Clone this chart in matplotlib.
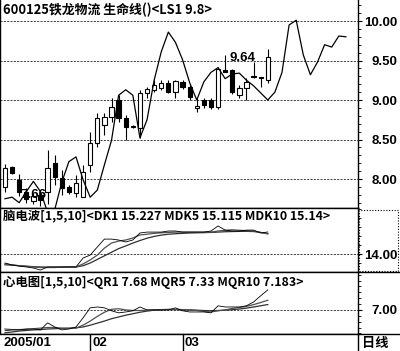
import numpy as np
import matplotlib
matplotlib.use("Agg")
import matplotlib.pyplot as plt
from matplotlib.lines import Line2D
from matplotlib.patches import Rectangle
from matplotlib.ticker import MultipleLocator, FixedLocator

# ---------------- data ----------------
opens  = [7.90, 8.15, 7.99, 7.84, 7.72, 7.80, 7.84, 8.20, 8.01, 7.90, 7.82, 7.77,
          8.18, 8.46, 8.68, 8.78, 9.00, 8.77, 8.66, 8.65, 9.09, 9.13, 9.15, 9.21,
          9.10, 9.23, 9.16, 8.90, 9.00, 9.00, 8.91, 9.38, 9.38, 9.06, 9.15, 9.30,
          9.29, 9.25]
closes = [8.14, 8.08, 7.84, 7.75, 7.78, 7.74, 8.14, 8.03, 7.89, 7.84, 7.95, 8.09,
          8.46, 8.77, 8.78, 8.91, 8.77, 8.66, 8.67, 9.09, 9.14, 9.19, 9.21, 9.10,
          9.24, 9.16, 9.04, 8.92, 8.94, 8.91, 9.39, 9.36, 9.10, 9.15, 9.23, 9.29,
          9.28, 9.54]
highs  = [8.19, 8.17, 8.06, 7.88, 7.82, 7.84, 8.37, 8.30, 8.11, 7.93, 8.05, 8.18,
          8.60, 8.84, 8.84, 9.02, 9.06, 8.81, 8.68, 9.13, 9.16, 9.25, 9.25, 9.25,
          9.25, 9.25, 9.19, 9.03, 9.02, 9.02, 9.42, 9.57, 9.39, 9.19, 9.28, 9.48,
          9.29, 9.64]
lows   = [7.84, 8.06, 7.78, 7.70, 7.68, 7.66, 7.68, 7.93, 7.80, 7.81, 7.77, 7.77,
          8.09, 8.40, 8.56, 8.72, 8.72, 8.49, 8.65, 8.52, 9.02, 9.10, 9.13, 9.09,
          9.02, 9.14, 9.00, 8.85, 8.90, 8.88, 8.89, 9.35, 9.08, 9.02, 9.00, 9.28,
          9.16, 9.21]

life_line = [7.75, 7.77, 7.70, 7.84, 7.97, 7.84, 7.58, 7.61, 7.96, 8.22, 8.28, 7.99,
             7.77, 7.86, 8.18, 8.49, 9.06, 9.13, 9.06, 8.52, 8.75, 9.25, 9.61, 9.86,
             9.73, 9.51, 9.22, 9.00, 9.23, 9.35, 9.41, 9.27, 9.33, 9.34, 9.25, 9.18,
             9.09, 9.00, 9.10, 9.35, 9.95, 10.01, 9.57, 9.32, 9.48, 9.70, 9.67, 9.81,
             9.80]

dk1   = [13.50, 13.39, 13.33, 13.28, 13.22, 13.11, 13.28, 13.28, 13.28, 13.28, 13.28,
         13.78, 13.94, 14.39, 14.83, 14.83, 14.78, 14.67, 14.78, 15.17, 15.22, 15.22,
         15.22, 15.28, 15.28, 15.22, 15.22, 15.22, 15.22, 15.28, 15.56, 15.33, 15.28,
         15.28, 15.33, 15.33, 15.17, 15.227]
mdk5  = [13.45, 13.40, 13.35, 13.32, 13.28, 13.25, 13.25, 13.25, 13.27, 13.28, 13.28,
         13.45, 13.67, 13.94, 14.33, 14.61, 14.72, 14.78, 14.89, 15.06, 15.10, 15.15,
         15.18, 15.20, 15.22, 15.22, 15.22, 15.22, 15.22, 15.22, 15.28, 15.32, 15.35,
         15.32, 15.30, 15.28, 15.20, 15.115]
mdk10 = [13.40, 13.38, 13.35, 13.32, 13.30, 13.28, 13.27, 13.27, 13.27, 13.28, 13.28,
         13.35, 13.50, 13.70, 13.90, 14.10, 14.30, 14.45, 14.61, 14.75, 14.88, 14.98,
         15.05, 15.10, 15.13, 15.15, 15.17, 15.18, 15.19, 15.20, 15.22, 15.24, 15.25,
         15.26, 15.26, 15.25, 15.20, 15.14]

qr1   = [6.29, 6.32, 6.32, 6.35, 6.35, 6.32, 6.56, 6.42, 6.32, 6.35, 6.42, 6.73,
         7.07, 7.10, 7.07, 6.97, 6.90, 6.93, 6.97, 7.10, 7.00, 7.00, 7.00, 7.00,
         7.07, 6.97, 6.93, 6.93, 6.93, 6.90, 7.14, 7.10, 7.10, 7.10, 7.14, 7.27,
         7.48, 7.68]
mqr5  = [6.35, 6.33, 6.33, 6.34, 6.36, 6.38, 6.40, 6.40, 6.38, 6.37, 6.38, 6.48,
         6.62, 6.78, 6.92, 7.02, 7.04, 7.00, 6.98, 6.98, 6.99, 7.00, 7.01, 7.02,
         7.02, 7.01, 7.00, 6.98, 6.95, 6.93, 6.97, 7.00, 7.05, 7.08, 7.12, 7.18,
         7.25, 7.33]
mqr10 = [6.22, 6.25, 6.28, 6.30, 6.32, 6.33, 6.35, 6.36, 6.37, 6.38, 6.39, 6.42,
         6.48, 6.55, 6.62, 6.70, 6.76, 6.82, 6.87, 6.92, 6.96, 6.99, 7.00, 7.01,
         7.01, 7.00, 7.00, 6.99, 6.98, 6.97, 6.98, 6.99, 7.01, 7.03, 7.06, 7.10,
         7.14, 7.183]

month_labels = ["2005/01", "02", "03"]
month_start  = [0, 12, 25]

title1 = "600125铁龙物流 生命线()<LS1 9.8>"
title2 = "脑电波[1,5,10]<DK1 15.227 MDK5 15.115 MDK10 15.14>"
title3 = "心电图[1,5,10]<QR1 7.68 MQR5 7.33 MQR10 7.183>"
period_label = "日线"

main_ticks = [8.00, 8.50, 9.00, 9.50, 10.00]
p2_ticks = [14.00]
p3_ticks = [7.00]

# ---------------- layout ----------------
W, H = 400, 351
fig = plt.figure(figsize=(W / 100, H / 100), dpi=100)
fig.patch.set_facecolor("white")

CJK = ["Noto Sans CJK SC", "DejaVu Sans"]
NUMF = ["Liberation Sans", "DejaVu Sans"]


def fax(x0, y0, x1, y1):
    return fig.add_axes([x0 / W, 1 - y1 / H, (x1 - x0) / W, (y1 - y0) / H])


ax1 = fax(0, 0, 358, 208)
ax2 = fax(0, 208, 358, 272)
ax3 = fax(0, 272, 358, 334)
ax4 = fax(0, 334, 358, 351)

XLIM = (-0.7, 49.7)
grid_kw = dict(color="#222222", lw=0.6, ls=(0, (2.5, 1.5)), zorder=0)


def style_panel(ax, ylim, ticks, minor):
    ax.set_xlim(*XLIM)
    ax.set_ylim(*ylim)
    ax.set_xticks([])
    ax.yaxis.tick_right()
    ax.yaxis.set_major_locator(FixedLocator(ticks))
    if minor:
        ax.yaxis.set_minor_locator(MultipleLocator(minor))
    ax.tick_params(axis="y", which="major", direction="out", length=3, width=0.8,
                   pad=25.5, labelsize=9.5, colors="black")
    ax.tick_params(axis="y", which="minor", direction="out", length=2, width=0.6,
                   colors="black")
    ax.set_yticklabels([f"{t:.2f}" for t in ticks], fontfamily=NUMF,
                       fontweight="bold", ha="right")
    for s in ["left", "right", "bottom", "top"]:
        ax.spines[s].set_color("black")
        ax.spines[s].set_linewidth(1.0)
    for t in ticks:
        ax.axhline(t, **grid_kw)


style_panel(ax1, (7.633, 10.266), main_ticks, 0.1)
style_panel(ax2, (13.0, 16.56), p2_ticks, 0.5)
style_panel(ax3, (6.18, 8.29), p3_ticks, 0.2)
ax1.spines["top"].set_visible(False)

# ---------------- candles ----------------
idx = np.arange(len(opens))
o = np.array(opens); c = np.array(closes); h = np.array(highs); l = np.array(lows)
up = c >= o
ax1.vlines(idx, l, h, color="black", lw=0.8, zorder=2)
body_bot = np.minimum(o, c)
body_h = np.maximum(np.abs(c - o), 0.012)
ax1.bar(idx[up], body_h[up], bottom=body_bot[up], width=0.6,
        facecolor="white", edgecolor="black", linewidth=0.8, zorder=3)
ax1.bar(idx[~up], body_h[~up], bottom=body_bot[~up], width=0.6,
        facecolor="black", edgecolor="black", linewidth=0.8, zorder=3)

ax1.plot(np.arange(len(life_line)), life_line, color="black", lw=0.9, zorder=4)

imax = int(np.argmax(h)); imin = int(np.argmin(l))
ax1.annotate(f"{h[imax]:.2f}", xy=(imax, h[imax]), xytext=(-9, -6),
             textcoords="offset points", ha="right", va="center",
             fontsize=9.5, fontweight="bold", fontfamily=NUMF, zorder=5)
ax1.annotate(f"{l[imin]:.2f}", xy=(imin, l[imin]), xytext=(4, 8),
             textcoords="offset points", ha="right", va="center",
             fontsize=9.5, fontweight="bold", fontfamily=NUMF, zorder=5)

# ---------------- indicator panels ----------------
i2 = np.arange(len(dk1))
ax2.plot(i2, mdk10, color="#303030", lw=0.9, zorder=3)
ax2.plot(i2, mdk5, color="#505050", lw=0.9, zorder=3)
ax2.plot(i2, dk1, color="black", lw=0.6, zorder=4)

i3 = np.arange(len(qr1))
ax3.plot(i3, mqr10, color="#303030", lw=0.9, zorder=3)
ax3.plot(i3, mqr5, color="#505050", lw=0.9, zorder=3)
ax3.plot(i3, qr1, color="black", lw=0.6, zorder=4)

# ---------------- titles ----------------
tkw = dict(fontweight="bold", fontfamily=CJK, ha="left",
           va="center", color="black", zorder=6)
fig.text(3 / W, 1 - 10 / H, title1, fontsize=9.3, **tkw)
fig.text(3 / W, 1 - 217 / H, title2, fontsize=8.9, **tkw)
fig.text(3 / W, 1 - 282 / H, title3, fontsize=8.9, **tkw)

# ---------------- date strip ----------------
ax4.set_xlim(*XLIM)
ax4.set_ylim(0, 1)
ax4.set_xticks([]); ax4.set_yticks([])
for s in ["left", "right", "bottom"]:
    ax4.spines[s].set_visible(False)
ax4.spines["top"].set_linewidth(1.0)
for k, (lab, m) in enumerate(zip(month_labels, month_start)):
    if k == 0:
        ax4.text(3 / 358, 0.45, lab, transform=ax4.transAxes, ha="left",
                 va="center", fontsize=9.5, fontweight="bold", fontfamily=NUMF)
    else:
        ax4.axvline(m, color="black", lw=1.0)
        ax4.annotate(lab, xy=(m, 0.45), xytext=(1.5, 0), textcoords="offset points",
                     ha="left", va="center", fontsize=9.5, fontweight="bold",
                     fontfamily=NUMF)

fig.text(362 / W, 1 - 343 / H, period_label, fontsize=9.5, fontweight="bold",
         fontfamily=CJK, ha="left", va="center")

# ---------------- right-side frame pieces ----------------
fig.add_artist(Line2D([358 / W, 358 / W], [0, 1 - 334 / H], color="black", lw=1.0))
for yy in (272, 334):
    fig.add_artist(Line2D([358 / W, 1], [1 - yy / H, 1 - yy / H], color="black", lw=1.0))
fig.add_artist(Rectangle((359 / W, 1 - 271 / H), 39 / W, 61 / H, fill=False,
                         ec="black", lw=0.8, ls=(0, (1, 1.5)),
                         transform=fig.transFigure))

fig.savefig("out.png", dpi=100, facecolor="white")
